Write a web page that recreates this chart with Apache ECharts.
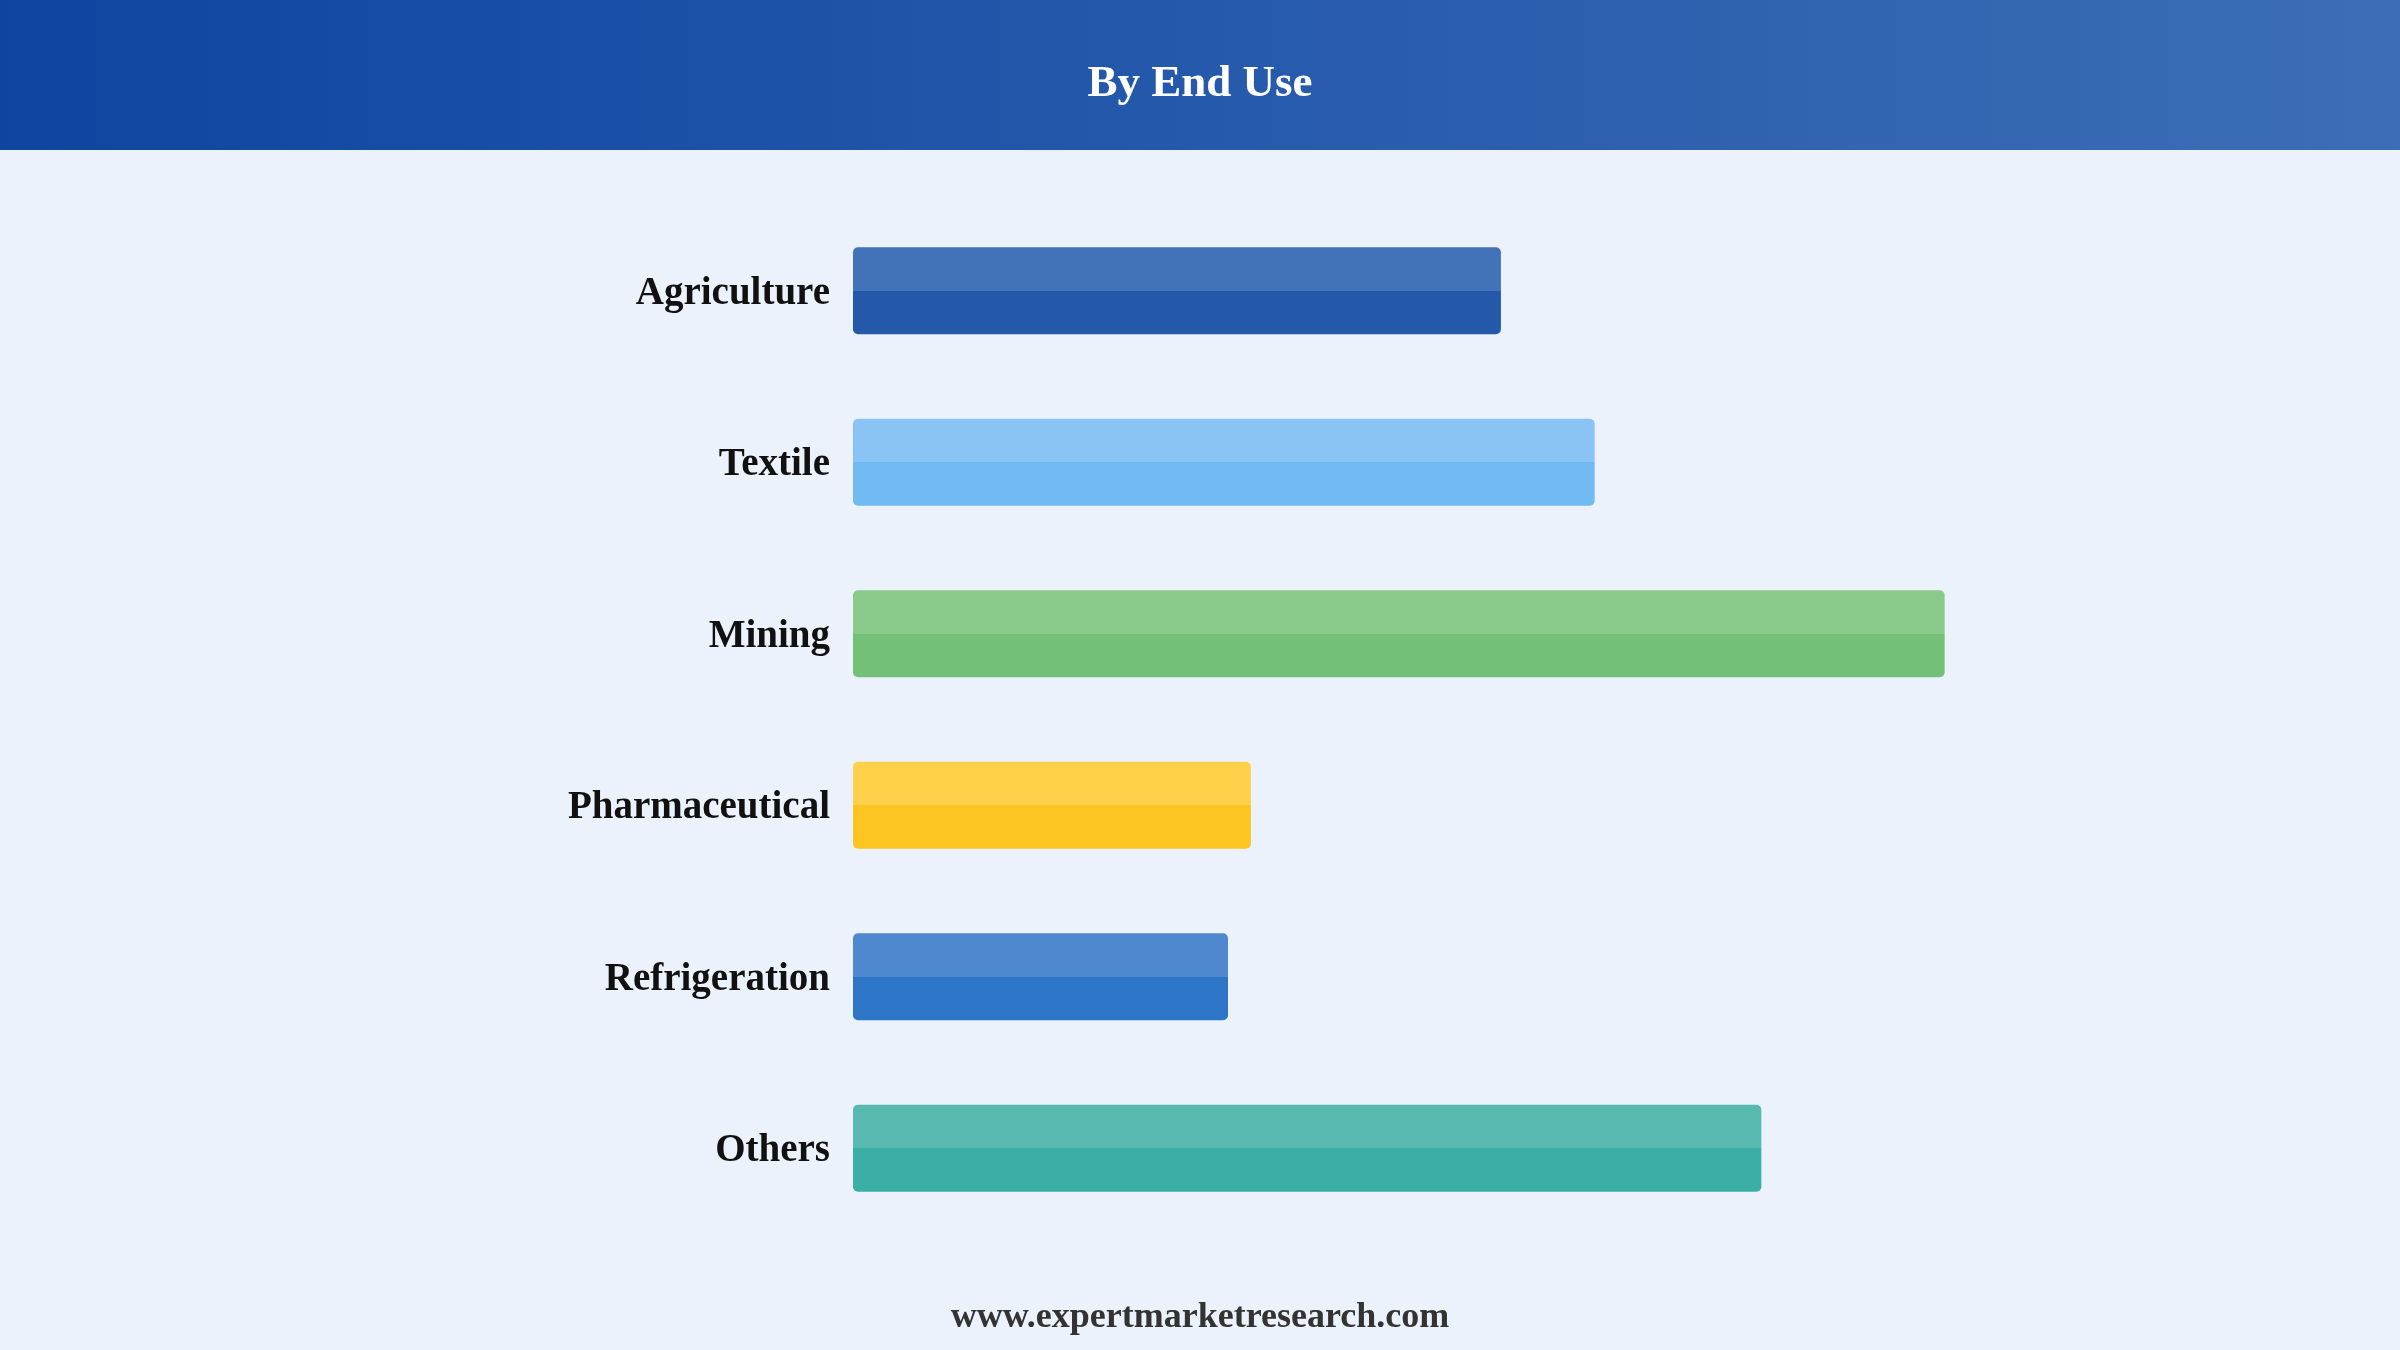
<!DOCTYPE html>
<html>
<head>
<meta charset="utf-8">
<title>By End Use</title>
<script src="https://cdn.jsdelivr.net/npm/echarts@6/dist/echarts.min.js"></script>
<style>
  html, body { margin: 0; padding: 0; background: #EBF2FB; }
  #main { width: 2400px; height: 1350px; }
</style>
</head>
<body>
<div id="main"></div>
<script>
// categories and shares (%)
var categories = ["Agriculture", "Textile", "Mining", "Pharmaceutical", "Refrigeration", "Others"];
var values = [15.55, 17.8, 26.2, 9.55, 9.0, 21.8];
// top (light) / bottom (dark) colour of each bar
var lightColors = ["#4272B8", "#89C4F5", "#89CA8B", "#FFD04A", "#4E89CF", "#58B9B0"];
var darkColors = ["#2458A8", "#71BAF4", "#73C177", "#FDC521", "#2D75C6", "#3BAEA5"];

var dom = document.getElementById('main');
var chart = echarts.init(dom);

function twoTone(i) { //hard stop gradient so the bar looks split in two
  return new echarts.graphic.LinearGradient(0, 0, 0, 1, [
    { offset: 0, color: lightColors[i] },
    { offset: 0.5, color: lightColors[i] },
    { offset: 0.5, color: darkColors[i] },
    { offset: 1, color: darkColors[i] }
  ]);
}

var barData = values.map(function (v, i) {
  return { value: v, itemStyle: { color: twoTone(i) } };
});

chart.setOption({
  backgroundColor: "#EBF2FB",
  animation: false,
  graphic: [
    {
      type: "rect",
      left: 0, top: 0,
      shape: { width: 2400, height: 150 },
      style: {
        fill: new echarts.graphic.LinearGradient(0, 0, 1, 0, [
          { offset: 0, color: "#0D45A0" },
          { offset: 1, color: "#3D6DB6" }
        ])
      },
      z: 0
    },
    {
      type: "text",
      left: "center", top: 62,
      style: {
        text: "By End Use",
        fill: "#ffffff",
        font: "bold 45px 'Liberation Serif', 'Times New Roman', serif"
      },
      z: 1
    },
    {
      type: "text",
      left: "center", top: 1300,
      style: {
        text: "www.expertmarketresearch.com",
        fill: "#333333",
        font: "bold 36px 'Liberation Serif', 'Times New Roman', serif"
      },
      z: 1
    }
  ],
  grid: { left: 853, width: 1250, top: 205, bottom: 116 },
  xAxis: {
    type: "value",
    min: 0,
    max: 30,
    show: false
  },
  yAxis: {
    type: "category",
    data: categories,
    inverse: true,
    axisLine: { show: false },
    axisTick: { show: false },
    splitLine: { show: false },
    axisLabel: {
      margin: 23,
      formatter: function (v) { return "{c|" + v + "}"; },
      rich: {
        c: {
          padding: [6, 0, 0, 0],
          color: "#111111",
          fontSize: 39,
          fontWeight: "bold",
          fontFamily: "'Liberation Serif', 'Times New Roman', serif"
        }
      }
    }
  },
  series: [{
    type: "bar",
    data: barData,
    barWidth: 87,
    itemStyle: { borderRadius: 5 }
  }]
});
</script>
</body>
</html>
